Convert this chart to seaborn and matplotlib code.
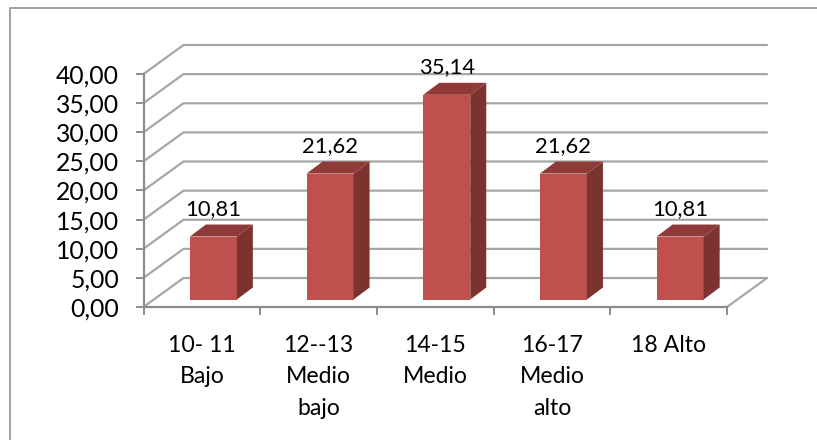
import matplotlib
matplotlib.use('Agg')
import matplotlib.pyplot as plt
from matplotlib.lines import Line2D
from matplotlib.patches import Polygon
from matplotlib.transforms import ScaledTranslation
import pandas as pd
import seaborn as sns

categories = ['10- 11\nBajo', '12--13\nMedio\nbajo', '14-15\nMedio', '16-17\nMedio\nalto', '18 Alto']
values = [10.81, 21.62, 35.14, 21.62, 10.81]
value_labels = ['10,81', '21,62', '35,14', '21,62', '10,81']
y_ticks = [0, 5, 10, 15, 20, 25, 30, 35, 40]
y_tick_labels = ['0,00', '5,00', '10,00', '15,00', '20,00', '25,00', '30,00', '35,00', '40,00']

GRID = '#a6a6a6'
AXIS = '#8c8c8c'
FRONT = '#c0504d'
SIDE = '#7c322f'
TOP = '#8f3a38'

W, H = 817, 440
LEFT, RIGHT, BASE, TOP_Y = 143.5, 727.0, 307.0, 74.0
PX_X = (RIGHT - LEFT) / 5
PX_Y = (BASE - TOP_Y) / 40

sns.set_theme(style='white')
plt.rcParams['font.family'] = ['Lato', 'DejaVu Sans']

fig = plt.figure(figsize=(W / 100, H / 100), dpi=100)
ax = fig.add_axes([LEFT / W, 1 - BASE / H, (RIGHT - LEFT) / W, (BASE - TOP_Y) / H])

# chart frame, cropped by the image on the right and at the bottom
fig.add_artist(Line2D([9.5 / W, 9.5 / W, 1], [0, 1 - 8.5 / H, 1 - 8.5 / H],
                      transform=fig.transFigure, color='#a0a0a0', lw=1.4))

df = pd.DataFrame({'cat': categories, 'val': values})
sns.barplot(data=df, x='cat', y='val', color=FRONT, saturation=1, width=47 / PX_X, ax=ax, zorder=4)

ax.set_xlim(-0.5, 4.5)
ax.set_ylim(0, 40)

# 3d look: wall and floor are the front plane pushed back by a pixel offset
wall_dx, wall_dy = 40 / PX_X, 29 / PX_Y
bar_shift_x, bar_shift_y = 11.5 / PX_X, 7.5 / PX_Y
bar_dx, bar_dy = 16 / PX_X, 12 / PX_Y

for t in y_ticks:
    ax.plot([-0.5, -0.5 + wall_dx, 4.5 + wall_dx], [t, t + wall_dy, t + wall_dy],
            color=GRID, lw=1.6, clip_on=False, zorder=1, solid_joinstyle='miter')
ax.plot([4.5, 4.5 + wall_dx], [0, wall_dy], color=GRID, lw=1.6, clip_on=False, zorder=1)

offset = ScaledTranslation(bar_shift_x * PX_X / 100, bar_shift_y * PX_Y / 100, fig.dpi_scale_trans)
for patch, val, lab in zip(ax.patches, values, value_labels):
    x0 = patch.get_x()
    x1 = x0 + patch.get_width()
    patch.set_transform(ax.transData + offset)
    patch.set_clip_on(False)
    patch.set_linewidth(0)
    side = [(x1, 0), (x1 + bar_dx, bar_dy), (x1 + bar_dx, val + bar_dy), (x1, val)]
    top = [(x0, val), (x0 + bar_dx, val + bar_dy), (x1 + bar_dx, val + bar_dy), (x1, val)]
    ax.add_patch(Polygon(side, closed=True, facecolor=SIDE, edgecolor='none', clip_on=False,
                         zorder=4, transform=ax.transData + offset))
    ax.add_patch(Polygon(top, closed=True, facecolor=TOP, edgecolor='none', clip_on=False,
                         zorder=4, transform=ax.transData + offset))
    ax.annotate(lab, xy=((x0 + x1) / 2, val + bar_dy), xycoords=ax.transData + offset,
                xytext=(0, 4), textcoords='offset points', ha='center', va='bottom',
                fontsize=15.8, color='black', zorder=6, annotation_clip=False)

sns.despine(ax=ax, top=True, right=True)
for name in ('left', 'bottom'):
    ax.spines[name].set_color(AXIS)
    ax.spines[name].set_linewidth(1.6)
    ax.spines[name].set_zorder(3)

ax.set_yticks(y_ticks)
ax.set_yticklabels(y_tick_labels)
ax.set_xticks([-0.5, 0.5, 1.5, 2.5, 3.5, 4.5])
ax.set_xticklabels([])
ax.tick_params(axis='both', which='major', length=6, width=1.4, color=AXIS, bottom=True, left=True)
ax.tick_params(axis='y', labelsize=17.8, labelcolor='black', pad=11.5)
ax.set_xlabel('')
ax.set_ylabel('')

for i, name in enumerate(categories):
    ax.annotate(name, xy=(i, 0), xycoords=('data', 'axes fraction'), xytext=(0, -20),
                textcoords='offset points', ha='center', va='top', multialignment='center',
                fontsize=16.6, color='black', linespacing=1.62)

fig.patch.set_facecolor('white')
ax.patch.set_alpha(0)
fig.savefig('out.png', dpi=100)
